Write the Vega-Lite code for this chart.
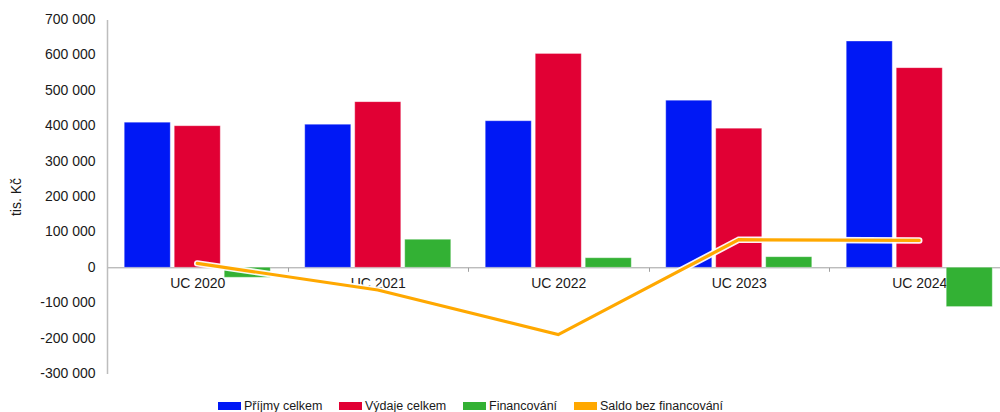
{
  "$schema": "https://vega.github.io/schema/vega-lite/v6.json",
  "width": 893,
  "height": 354,
  "autosize": {"type": "none"},
  "padding": {"left": 107, "top": 19.5, "right": 0, "bottom": 38.5},
  "background": "white",
  "config": {
    "view": {"stroke": null},
    "font": "Liberation Sans",
    "locale": {"number": {"decimal": ",", "thousands": " ", "grouping": [3], "currency": ["", " Kč"], "minus": "-"}},
    "axis": {"labelColor": "#1a1a1a", "titleColor": "#1a1a1a", "labelFont": "Liberation Sans", "titleFont": "Liberation Sans"}
  },
  "datasets": {
    "bars": [
      {"rok": "UC 2020", "serie": "Příjmy celkem", "hodnota": 410000},
      {"rok": "UC 2020", "serie": "Výdaje celkem", "hodnota": 400000},
      {"rok": "UC 2020", "serie": "Financování", "hodnota": -28000},
      {"rok": "UC 2021", "serie": "Příjmy celkem", "hodnota": 404000},
      {"rok": "UC 2021", "serie": "Výdaje celkem", "hodnota": 468000},
      {"rok": "UC 2021", "serie": "Financování", "hodnota": 79000},
      {"rok": "UC 2022", "serie": "Příjmy celkem", "hodnota": 414000},
      {"rok": "UC 2022", "serie": "Výdaje celkem", "hodnota": 604000},
      {"rok": "UC 2022", "serie": "Financování", "hodnota": 27000},
      {"rok": "UC 2023", "serie": "Příjmy celkem", "hodnota": 472000},
      {"rok": "UC 2023", "serie": "Výdaje celkem", "hodnota": 393000},
      {"rok": "UC 2023", "serie": "Financování", "hodnota": 30000},
      {"rok": "UC 2024", "serie": "Příjmy celkem", "hodnota": 639000},
      {"rok": "UC 2024", "serie": "Výdaje celkem", "hodnota": 564000},
      {"rok": "UC 2024", "serie": "Financování", "hodnota": -111000}
    ],
    "saldo": [
      {"rok": "UC 2020", "serie": "Saldo bez financování", "hodnota": 11000},
      {"rok": "UC 2021", "serie": "Saldo bez financování", "hodnota": -64000},
      {"rok": "UC 2022", "serie": "Saldo bez financování", "hodnota": -190000},
      {"rok": "UC 2023", "serie": "Saldo bez financování", "hodnota": 78000},
      {"rok": "UC 2024", "serie": "Saldo bez financování", "hodnota": 76000}
    ]
  },
  "encoding": {
    "x": {
      "field": "rok", "type": "nominal",
      "scale": {"range": [0, 902.5], "paddingInner": 0, "paddingOuter": 0},
      "axis": {
        "title": null, "labelAngle": 0, "offset": -106.2, "tickBand": "extent",
        "domainColor": "#a0a0a0", "tickColor": "#a0a0a0", "tickSize": 4,
        "labelPadding": 5, "labelFontSize": 14
      }
    },
    "y": {
      "field": "hodnota", "type": "quantitative",
      "scale": {"domain": [-300000, 700000], "nice": false, "zero": false},
      "axis": {
        "title": "tis. Kč", "titleFontSize": 14, "titleFontWeight": "normal", "titlePadding": 16,
        "values": [-300000, -200000, -100000, 0, 100000, 200000, 300000, 400000, 500000, 600000, 700000],
        "format": ",d", "grid": false, "ticks": false, "labelPadding": 12, "labelFontSize": 14,
        "domainColor": "#bdbdbd", "domainWidth": 1.5
      }
    }
  },
  "layer": [
    {
      "data": {"name": "bars"},
      "mark": {"type": "bar", "stroke": "white", "strokeWidth": 0.5, "strokeOpacity": 0.6},
      "encoding": {
        "xOffset": {
          "field": "serie", "type": "nominal",
          "sort": ["Příjmy celkem", "Výdaje celkem", "Financování"],
          "scale": {"paddingInner": 0.08, "paddingOuter": 0.345}
        },
        "color": {
          "field": "serie", "type": "nominal",
          "scale": {
            "domain": ["Příjmy celkem", "Výdaje celkem", "Financování", "Saldo bez financování"],
            "range": ["#0018F5", "#E10034", "#33B134", "#FFA800"]
          },
          "legend": {
            "title": null, "orient": "none", "legendX": 111, "legendY": 375,
            "direction": "horizontal", "columnPadding": 16, "labelOffset": 3,
            "labelFontSize": 12.5, "labelColor": "#1a1a1a", "labelFont": "Liberation Sans",
            "symbolType": "M-1,-0.35H1V0.35H-1Z", "symbolSize": 529, "symbolStrokeWidth": 0,
            "encode": {
              "symbols": {
                "update": {
                  "shape": {"signal": "datum.value === 'Saldo bez financování' ? 'M-1,-0.08H1V0.08H-1Z' : 'M-1,-0.35H1V0.35H-1Z'"},
                  "fill": {"scale": "color", "field": "value"},
                  "strokeWidth": {"value": 0}
                }
              }
            }
          }
        }
      }
    },
    {
      "data": {"name": "saldo"},
      "mark": {"type": "line", "color": "white", "strokeWidth": 6.5, "strokeCap": "round", "strokeJoin": "miter", "opacity": 0.95},
      "encoding": {}
    },
    {
      "data": {"name": "saldo"},
      "mark": {"type": "line", "strokeWidth": 3.2, "strokeCap": "round", "strokeJoin": "miter"},
      "encoding": {
        "color": {"field": "serie", "type": "nominal"}
      }
    }
  ]
}
